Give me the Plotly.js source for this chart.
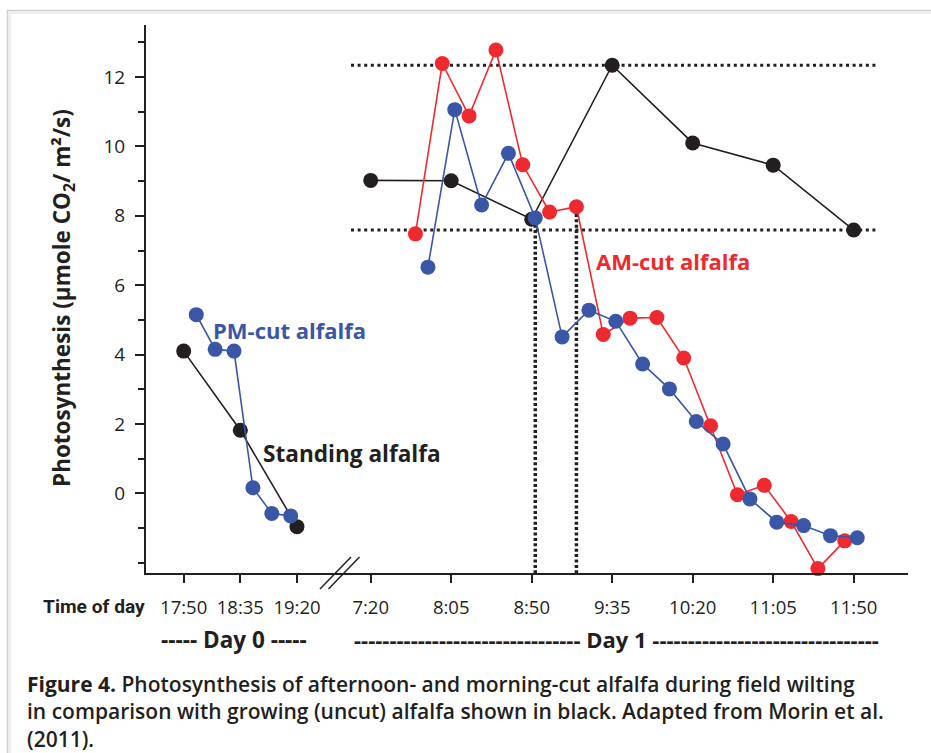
<!DOCTYPE html>
<html><head><meta charset="utf-8">
<script src="https://cdn.plot.ly/plotly-3.0.1.min.js"></script>
<style>html,body{margin:0;padding:0;background:#fff;} #chart{width:931px;height:753px;}</style>
</head><body><div id="chart"></div>
<script>
// ---- Data ----
const standingDay0Times = ["17:50","18:35","19:20"];
const standingDay0Values = [4.1, 1.82, -0.96];
const pmCutDay0Times = ["18:00","18:15","18:30","18:45","19:00","19:15"];
const pmCutDay0Values = [5.15, 4.15, 4.1, 0.16, -0.58, -0.65];
const standingDay1Times = ["7:20","8:05","8:50","9:35","10:20","11:05","11:50"];
const standingDay1Values = [9.02, 9.01, 7.9, 12.34, 10.1, 9.46, 7.59];
const pmCutDay1Times = ["7:52","8:07","8:22","8:37","8:52","9:07","9:22","9:37","9:52","10:07","10:22","10:37","10:52","11:07","11:22","11:37","11:52"];
const pmCutDay1Values = [6.52, 11.06, 8.31, 9.8, 7.94, 4.51, 5.28, 4.96, 3.73, 3.01, 2.07, 1.42, -0.16, -0.83, -0.93, -1.22, -1.28];
const amCutDay1Times = ["7:45","8:00","8:15","8:30","8:45","9:00","9:15","9:30","9:45","10:00","10:15","10:30","10:45","11:00","11:15","11:30","11:45"];
const amCutDay1Values = [7.48, 12.39, 10.88, 12.78, 9.47, 8.11, 8.26, 4.58, 5.05, 5.07, 3.9, 1.95, -0.04, 0.23, -0.81, -2.17, -1.37];
const day0TickLabels = ["17:50","18:35","19:20"];
const day1TickLabels = ["7:20","8:05","8:50","9:35","10:20","11:05","11:50"];
const yTickValues = [0,2,4,6,8,10,12];
const yTickLabels = ["0","2","4","6","8","10","12"];
const yMinorValues = [-2,-1,1,3,5,7,9,11,13];
const captionLines = [
  "<b>Figure 4.</b> Photosynthesis of afternoon- and morning-cut alfalfa during field wilting",
  "in comparison with growing (uncut) alfalfa shown in black. Adapted from Morin et al.",
  "(2011)."
];

// ---- helpers ----
const W = 931, H = 753;
const toMin = s => { const p = s.split(':').map(Number); return p[0]*60 + p[1]; };
const px = x => x / W;
const py = y => 1 - y / H;

const BLACK = '#231f20', BLUE = '#3a56a6', RED = '#ee2a30';
const MS = 15, LW = 1.6;
const FONT = '"Open Sans", sans-serif';

function series(times, vals, color, xa) {
  return {
    type: 'scatter', mode: 'lines+markers',
    x: times.map(toMin), y: vals, xaxis: xa, yaxis: 'y',
    line: {color: color, width: LW},
    marker: {color: color, size: MS},
    cliponaxis: false, hoverinfo: 'skip', showlegend: false
  };
}

const traces = [
  series(standingDay0Times, standingDay0Values, BLACK, 'x'),
  series(pmCutDay0Times, pmCutDay0Values, BLUE, 'x'),
  series(standingDay1Times, standingDay1Values, BLACK, 'x2'),
  series(amCutDay1Times, amCutDay1Values, RED, 'x2'),
  series(pmCutDay1Times, pmCutDay1Values, BLUE, 'x2')
];

const peak = Math.max(...standingDay1Values);
const lastStanding = standingDay1Values[standingDay1Values.length - 1];
const vx1 = toMin(pmCutDay1Times[4]);
const vy1 = standingDay1Values[2];
const vx2 = toMin(amCutDay1Times[6]);
const vy2 = amCutDay1Values[6];
const hx0 = toMin("7:09"), hx1 = toMin("12:04");
const yBottom = -2.305;

const dotH = {color: BLACK, width: 3, dash: '3px,3.6px'};
const dotV = {color: BLACK, width: 3.5, dash: '3px,2.4px'};

const shapes = [
  // frame
  {type:'line', xref:'paper', yref:'paper', x0:px(7.5), x1:px(7.5), y0:py(10), y1:py(760), line:{color:'#cfcfcf', width:1.5}},
  {type:'line', xref:'paper', yref:'paper', x0:px(7), x1:px(940), y0:py(10.5), y1:py(10.5), line:{color:'#cfcfcf', width:1.5}},
  {type:'line', xref:'paper', yref:'paper', x0:px(9.5), x1:px(9.5), y0:py(12), y1:py(760), line:{color:'#ececec', width:2.5}},
  {type:'line', xref:'paper', yref:'paper', x0:px(9), x1:px(940), y0:py(12.5), y1:py(12.5), line:{color:'#ececec', width:2.5}},
  // reference dotted lines
  {type:'line', xref:'x2', yref:'y', x0:hx0, x1:hx1, y0:peak, y1:peak, line:dotH, layer:'below'},
  {type:'line', xref:'x2', yref:'y', x0:hx0, x1:hx1, y0:lastStanding, y1:lastStanding, line:dotH, layer:'below'},
  {type:'line', xref:'x2', yref:'y', x0:vx1, x1:vx1, y0:yBottom, y1:vy1, line:dotV, layer:'below'},
  {type:'line', xref:'x2', yref:'y', x0:vx2, x1:vx2, y0:yBottom, y1:vy2, line:dotV, layer:'below'},
  // axis break slashes
  {type:'line', xref:'paper', yref:'paper', x0:px(320), x1:px(351), y0:py(589), y1:py(557), line:{color:BLACK, width:1.5}},
  {type:'line', xref:'paper', yref:'paper', x0:px(328.5), x1:px(359.5), y0:py(589), y1:py(557), line:{color:BLACK, width:1.5}}
];

function ann(text, x, y, opts) {
  return Object.assign({text: text, x: px(x), y: py(y), xref:'paper', yref:'paper', showarrow:false,
    xanchor:'center', yanchor:'middle'}, opts);
}

const dashes = n => '-'.repeat(n);

const annotations = [
  ann('<b>PM-cut alfalfa</b>', 211, 330, {xanchor:'left', font:{family:FONT, size:22, color:BLUE}}),
  ann('<b>Standing alfalfa</b>', 261, 453, {xanchor:'left', font:{family:FONT, size:22.6, color:BLACK}}),
  ann('<b>AM-cut alfalfa</b>', 594, 261, {xanchor:'left', font:{family:FONT, size:22, color:RED}}),
  ann('<b>Photosynthesis (µmole CO<sub>2</sub>/ m²/s)</b>', 63, 298, {textangle:-90, font:{family:FONT, size:22.5, color:BLACK}}),
  ann('<b>Time of day</b>', 41, 606, {xanchor:'left', font:{family:'Roboto, "Open Sans", sans-serif', size:19.2, color:BLACK}}),
  ann('<b>' + dashes(5) + ' Day 0 ' + dashes(5) + '</b>', 234, 639, {font:{family:FONT, size:22.5, color:BLACK}}),
  ann('<b>' + dashes(32) + ' Day 1 ' + dashes(32) + '</b>', 616, 639, {font:{family:FONT, size:22, color:BLACK}}),
  ann(captionLines.join('<br>'), 26, 711, {xanchor:'left', align:'left', borderpad:0,
    font:{family:FONT, size:21, weight:600, color:BLACK}})
];

const layout = {
  width: W, height: H,
  margin: {l:0, r:0, t:0, b:0},
  paper_bgcolor: '#ffffff', plot_bgcolor: 'rgba(0,0,0,0)',
  showlegend: false,
  xaxis: {
    domain: [px(146), px(339)], range: [1040.06, 1193.4], anchor: 'y',
    showgrid: false, zeroline: false, showline: true, linecolor: BLACK, linewidth: 2,
    ticks: 'outside', ticklen: 8, tickwidth: 2, tickcolor: BLACK,
    tickmode: 'array', tickvals: day0TickLabels.map(toMin), ticktext: day0TickLabels,
    tickfont: {family: FONT, size: 18.5, color: BLACK}, ticklabelstandoff: 8
  },
  xaxis2: {
    domain: [px(339), px(907.7)], range: [422.28, 740.19], anchor: 'y',
    showgrid: false, zeroline: false, showline: true, linecolor: BLACK, linewidth: 2,
    ticks: 'outside', ticklen: 8, tickwidth: 2, tickcolor: BLACK,
    tickmode: 'array', tickvals: day1TickLabels.map(toMin), ticktext: day1TickLabels,
    tickfont: {family: FONT, size: 18.5, color: BLACK}, ticklabelstandoff: 8
  },
  yaxis: {
    domain: [py(573.3), py(25)], range: [yBottom, 13.5], anchor: 'x',
    showgrid: false, zeroline: false, showline: true, linecolor: BLACK, linewidth: 2,
    ticks: 'outside', ticklen: 9, tickwidth: 2, tickcolor: BLACK,
    tickmode: 'array', tickvals: yTickValues, ticktext: yTickLabels,
    tickfont: {family: FONT, size: 19, color: BLACK}, ticklabelstandoff: 6,
    minor: {tickmode: 'array', tickvals: yMinorValues, ticks: 'outside', ticklen: 6, tickwidth: 2, tickcolor: BLACK}
  },
  shapes: shapes,
  annotations: annotations
};

Plotly.newPlot('chart', traces, layout, {staticPlot: true, displayModeBar: false});
</script>
</body></html>
